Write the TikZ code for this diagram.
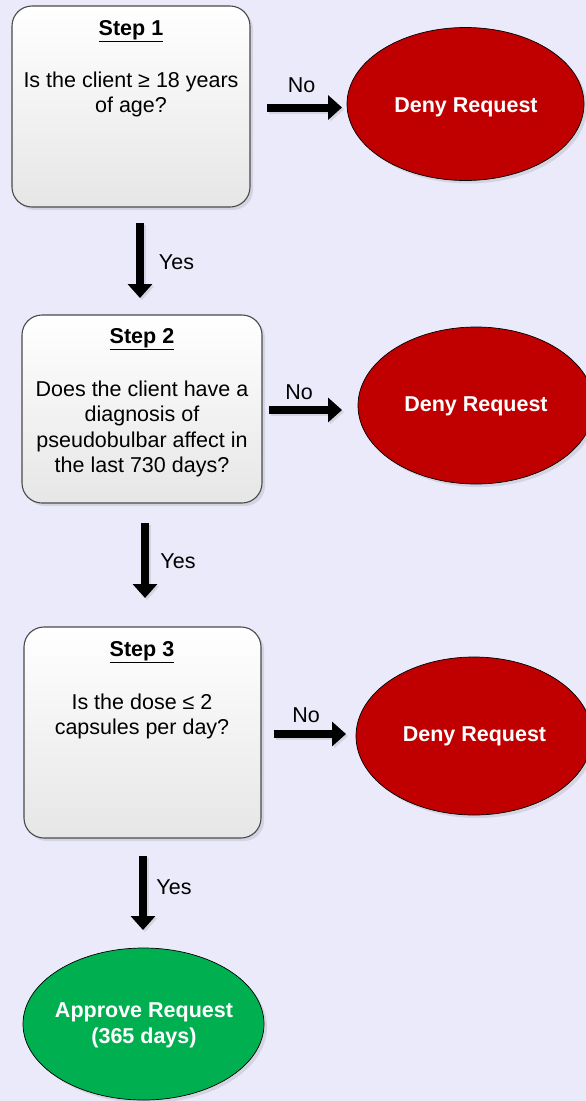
\documentclass[tikz,border=0pt]{standalone}
\usepackage{fontspec}
\setmainfont{Liberation Sans}
\usetikzlibrary{arrows.meta,shadows,shapes.geometric}
\definecolor{bgc}{HTML}{EAEAFA}
\definecolor{denyred}{HTML}{C00000}
\definecolor{okgreen}{HTML}{00B050}
\definecolor{shadowc}{HTML}{D3D3E2}
\definecolor{boxline}{HTML}{4A4A4A}
\definecolor{boxbottom}{HTML}{E6E6E6}
\tikzset{
  stepbox/.style={draw=boxline, line width=1.1pt, rounded corners=20pt,
    top color=white, bottom color=boxbottom,
    drop shadow={shadow xshift=3pt, shadow yshift=-3pt, fill=shadowc, opacity=1},
    inner sep=0pt},
  oval/.style={ellipse, draw=black, line width=0.7pt, inner sep=0pt,
    drop shadow={shadow xshift=3pt, shadow yshift=-3pt, fill=shadowc, opacity=1}},
  deny/.style={oval, fill=denyred, minimum width=237pt, minimum height=153pt},
  lbl/.style={inner sep=0pt, font=\fontsize{21.5}{25.5}\selectfont, align=center},
  tlbl/.style={lbl, font=\fontsize{21.5}{25.5}\selectfont\bfseries},
  olbl/.style={lbl, text=white, font=\fontsize{21.5}{25.5}\selectfont\bfseries},
  flow/.style={line width=8pt, -{Triangle[width=24pt,length=14pt]}},
  flowshadow/.style={flow, draw=shadowc, transform canvas={xshift=2pt, yshift=-2pt}}
}
\begin{document}
\begin{tikzpicture}[x=1pt,y=-1pt]
\fill[bgc] (0,0) rectangle (586,1101);
\useasboundingbox (0,0) rectangle (586,1101);
\clip (0,0) rectangle (586,1101);

% step boxes
\node[stepbox, minimum width=238pt, minimum height=201pt] (s1) at (131,106.5) {};
\node[stepbox, minimum width=240pt, minimum height=188pt] (s2) at (142,409) {};
\node[stepbox, minimum width=237pt, minimum height=211pt] (s3) at (142.5,732.5) {};

\node[tlbl] (t1) at (131,31) {\underline{Step 1}};
\node[lbl] (q1) at (131,94.5) {Is the client ≥ 18 years\\of age?};
\node[tlbl] (t2) at (142,339.5) {\underline{Step 2}};
\node[lbl] (q2) at (142,429) {Does the client have a\\diagnosis of\\pseudobulbar affect in\\the last 730 days?};
\node[tlbl] (t3) at (142,652.5) {\underline{Step 3}};
\node[lbl] (q3) at (142,716.5) {Is the dose ≤ 2\\capsules per day?};

% outcome ellipses
\node[deny] (d1) at (465.5,104) {};
\node[olbl] (d1t) at (466,107) {Deny Request};
\node[deny, minimum width=236pt, minimum height=157pt] (d2) at (476,405.5) {};
\node[olbl] (d2t) at (476,406) {Deny Request};
\node[deny, minimum width=236pt, minimum height=158pt] (d3) at (474,736) {};
\node[olbl] (d3t) at (474.5,736) {Deny Request};
\node[oval, fill=okgreen, minimum width=241pt, minimum height=152pt] (ap) at (143.5,1024) {};
\node[olbl] (apt) at (144,1025.5) {Approve Request\\(365 days)};

% arrow end points
\coordinate (n1s) at (267,107.5); \coordinate (n1e) at (342,107.5);
\coordinate (n2s) at (269,410);   \coordinate (n2e) at (342,410);
\coordinate (n3s) at (274,734);   \coordinate (n3e) at (346,734);
\coordinate (y1s) at (140,223);   \coordinate (y1e) at (140,298);
\coordinate (y2s) at (145,523);   \coordinate (y2e) at (145,598);
\coordinate (y3s) at (143,856);   \coordinate (y3e) at (143,930);

\foreach \a in {n1,n2,n3,y1,y2,y3}{
  \draw[flowshadow] (\a s) -- (\a e);
}
\foreach \a in {n1,n2,n3,y1,y2,y3}{
  \draw[flow] (\a s) -- (\a e);
}

\node[lbl] (l1) at (301.5,85) {No};
\node[lbl] (l2) at (299,392) {No};
\node[lbl] (l3) at (306,715) {No};
\node[lbl] (l4) at (176.5,262) {Yes};
\node[lbl] (l5) at (178,561) {Yes};
\node[lbl] (l6) at (174,887) {Yes};
\end{tikzpicture}
\end{document}
